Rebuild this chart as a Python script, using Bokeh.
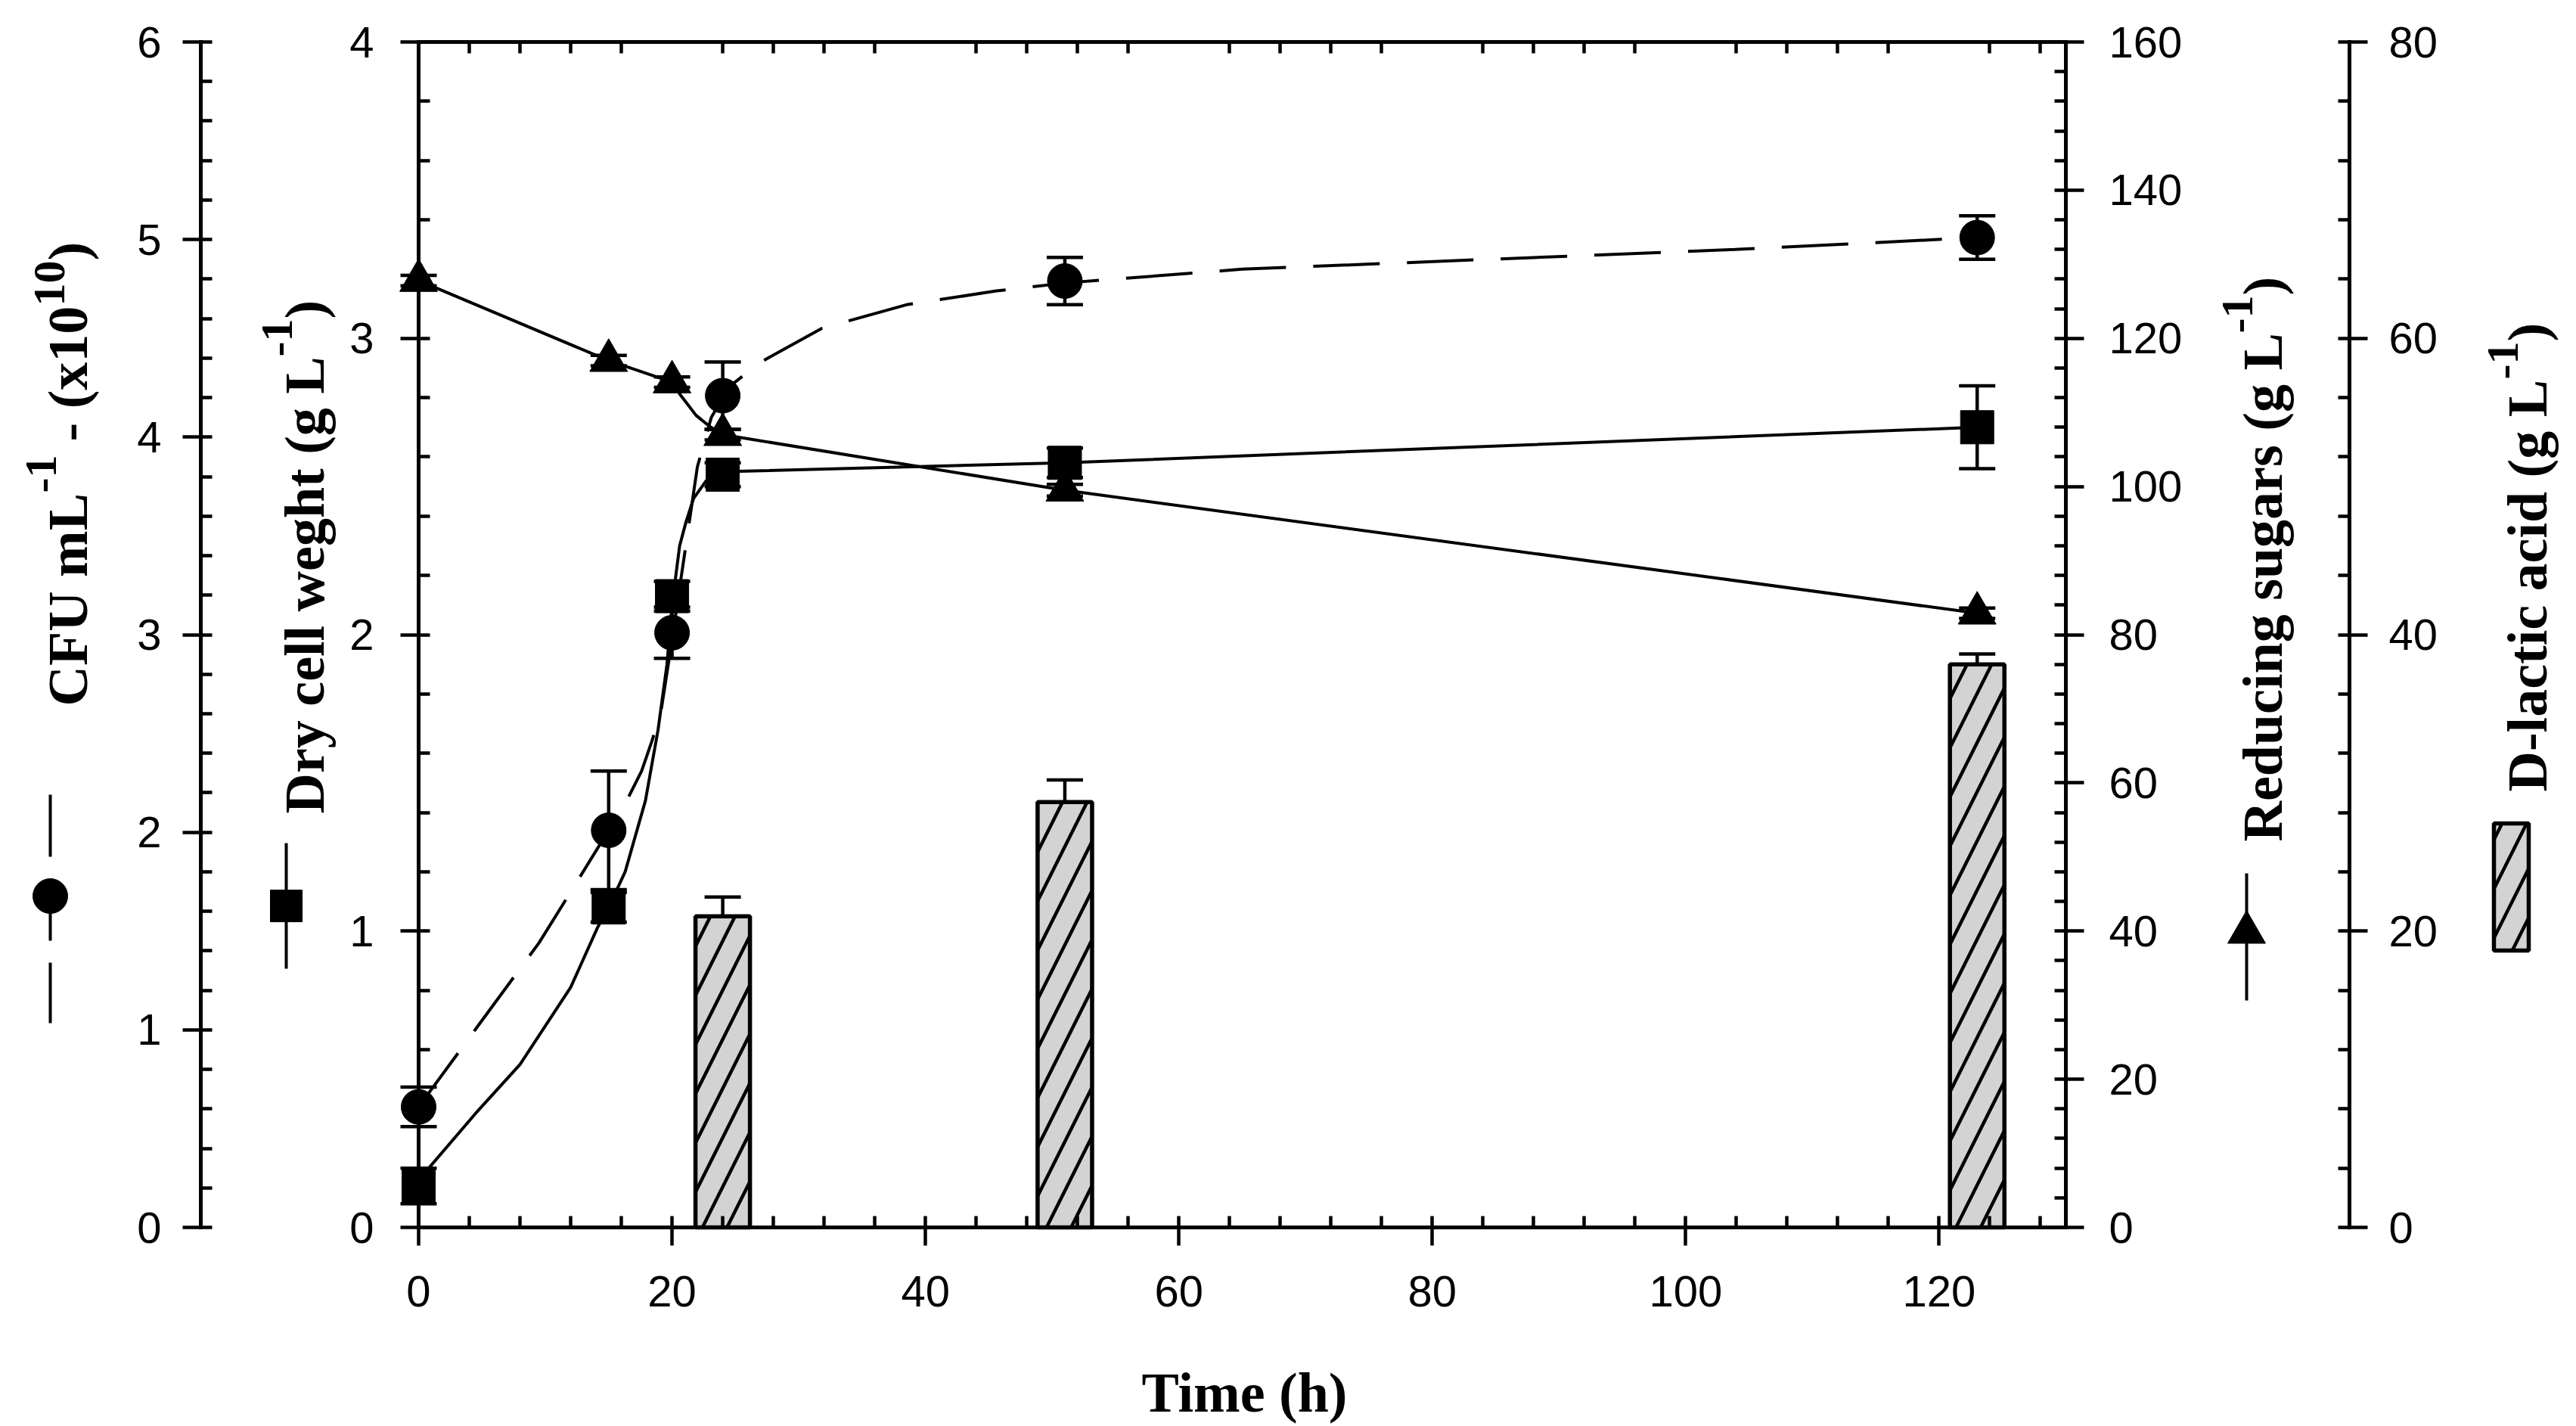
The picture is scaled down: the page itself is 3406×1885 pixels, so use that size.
from math import pi
from bokeh.plotting import figure
from bokeh.models import Range1d, LinearAxis, SingleIntervalTicker, FixedTicker
from bokeh.core.properties import value
from bokeh.embed import file_html
from bokeh.resources import INLINE

# ---------------- data ----------------
time_h = [0, 15, 20, 24, 51, 123]
cfu = [0.61, 2.01, 3.01, 4.21, 4.79, 5.01]          # CFU mL-1 (x10^10)
cfu_err = [0.10, 0.30, 0.13, 0.17, 0.12, 0.11]
dcw = [0.14, 1.08, 2.13, 2.54, 2.58, 2.70]          # dry cell weight g/L
dcw_err = [0.06, 0.05, 0.05, 0.04, 0.05, 0.14]
sugars = [127.8, 117.0, 114.1, 107.0, 99.5, 82.9]    # reducing sugars g/L
sugars_err = [0.7, 0.7, 0.7, 0.7, 0.8, 0.7]
lactic_time = [24, 51, 123]
lactic = [21.0, 28.7, 38.0]                          # D-lactic acid g/L
lactic_err = [1.3, 1.5, 0.7]

# fitted curves as drawn in the picture
cfu_fit_t = [0, 4.8, 9.5, 12.5, 15, 16.5, 17.6, 18.4, 19.1, 19.8, 20.4, 21.2, 22.0,
             23.1, 24.0, 24.8, 27.0, 31.8, 38.5, 45.6, 51.0, 65, 84.5, 103.9, 123]
cfu_fit_v = [0.61, 1.03, 1.44, 1.75, 2.01, 2.17, 2.31, 2.46, 2.60, 2.89, 3.15, 3.50, 3.85,
             4.10, 4.20, 4.27, 4.38, 4.55, 4.67, 4.74, 4.78, 4.85, 4.90, 4.95, 5.01]
dcw_fit_t = [0, 0.8, 4.5, 8.0, 12.0, 14.1, 15, 16.3, 17.9, 18.9, 19.6, 20.0, 20.6,
             21.1, 21.7, 22.7, 24.0, 51, 123]
dcw_fit_v = [0.14, 0.20, 0.385, 0.55, 0.81, 1.01, 1.08, 1.20, 1.44, 1.68, 1.90, 2.10, 2.30,
             2.38, 2.46, 2.52, 2.55, 2.58, 2.70]
sugars_fit_t = [0, 15, 20, 20.6, 21.9, 22.9, 24, 51, 123]
sugars_fit_v = [127.8, 117.0, 114.1, 112.5, 109.6, 108.2, 107.0, 99.5, 82.9]

# ---------------- layout constants (pixels of the page) ----------------
W, H = 3400, 1884
OX, OY = 0, 0
X0_PX, X1_PX, T_MAX = 553, 2731, 130
Y0_PX, Y1_PX, DCW_MAX = 1622, 55, 4
kx = (X1_PX - X0_PX) / T_MAX
ky = (Y0_PX - Y1_PX) / DCW_MAX
x_lo = -(X0_PX - OX) / kx
x_hi = T_MAX + (OX + W - X1_PX) / kx
y_lo = -(OY + H - Y0_PX) / ky
y_hi = DCW_MAX + (Y1_PX - OY) / ky

p = figure(width=W, height=H, x_range=Range1d(x_lo, x_hi), y_range=Range1d(y_lo, y_hi),
           x_axis_location=None, y_axis_location=None, toolbar_location=None,
           output_backend="svg", min_border=0)
p.outline_line_color = None
p.grid.grid_line_color = None
p.extra_y_ranges = {
    "cfu": Range1d(y_lo * 1.5, y_hi * 1.5),
    "sugar": Range1d(y_lo * 40, y_hi * 40),
    "lactic": Range1d(y_lo * 20, y_hi * 20),
    "py": Range1d(OY + H, OY),
}
p.extra_x_ranges = {"px": Range1d(OX, OX + W)}

TICK_FONT = "Liberation Sans"
TITLE_FONT = "Liberation Serif"


def style_axis(ax, ticker, standoff):
    ax.ticker = ticker
    ax.axis_line_width = 5
    ax.axis_line_cap = "square"
    ax.major_tick_line_width = 4.5
    ax.minor_tick_line_width = 4.5
    ax.major_tick_out = 24
    ax.major_tick_in = 0
    ax.minor_tick_out = 0
    ax.minor_tick_in = 15
    ax.major_label_text_font = TICK_FONT
    ax.major_label_text_font_size = "58px"
    ax.major_label_text_color = "black"
    ax.major_label_standoff = standoff
    ax.axis_line_color = "black"
    ax.major_tick_line_color = "black"
    ax.minor_tick_line_color = "black"


# bottom time axis
xb = LinearAxis(fixed_location=0, bounds=(0, T_MAX))
style_axis(xb, SingleIntervalTicker(interval=20, num_minor_ticks=5), 40)
p.add_layout(xb, "below")

# top frame edge (minor ticks only)
xt = LinearAxis(fixed_location=DCW_MAX, bounds=(0, T_MAX))
style_axis(xt, FixedTicker(ticks=[], minor_ticks=[t for t in range(4, T_MAX, 4) if t % 20]), 30)
p.add_layout(xt, "above")

# dry cell weight axis (frame left)
ydcw = LinearAxis(fixed_location=0, bounds=(0, DCW_MAX))
style_axis(ydcw, SingleIntervalTicker(interval=1, num_minor_ticks=5), 35)
p.add_layout(ydcw, "left")

# CFU axis (detached, left)
ycfu = LinearAxis(y_range_name="cfu", x_range_name="px", fixed_location=265, bounds=(0, 6))
style_axis(ycfu, SingleIntervalTicker(interval=1, num_minor_ticks=5), 28)
p.add_layout(ycfu, "left")

# reducing sugars axis (frame right)
ysug = LinearAxis(y_range_name="sugar", fixed_location=T_MAX, bounds=(0, 160))
style_axis(ysug, SingleIntervalTicker(interval=20, num_minor_ticks=5), 33)
p.add_layout(ysug, "right")

# D-lactic acid axis (detached, right)
ylac = LinearAxis(y_range_name="lactic", x_range_name="px", fixed_location=3106, bounds=(0, 80))
style_axis(ylac, SingleIntervalTicker(interval=20, num_minor_ticks=5), 28)
p.add_layout(ylac, "right")

# ---------------- bars ----------------
BAR_STYLE = dict(fill_color="#d3d3d3", line_color="black", line_width=5.5,
                 hatch_pattern="/", hatch_color="black", hatch_weight=4.5, hatch_scale=65)
p.vbar(x=lactic_time, top=lactic, bottom=0, width=4.3, y_range_name="lactic", **BAR_STYLE)
lac_hi = [v + e for v, e in zip(lactic, lactic_err)]
p.segment(x0=lactic_time, y0=lactic, x1=lactic_time, y1=lac_hi, y_range_name="lactic",
          line_color="black", line_width=4.5)
p.scatter(x=lactic_time, y=lac_hi, marker="dash", size=48, line_width=4.5,
          line_color="black", y_range_name="lactic")

# ---------------- curves ----------------
p.line(cfu_fit_t, cfu_fit_v, y_range_name="cfu", line_color="black", line_width=4,
       line_dash="88 36")
p.line(dcw_fit_t, dcw_fit_v, line_color="black", line_width=4)
p.line(sugars_fit_t, sugars_fit_v, y_range_name="sugar", line_color="black", line_width=4)


def errbars(vals, errs, rng):
    lo = [v - e for v, e in zip(vals, errs)]
    hi = [v + e for v, e in zip(vals, errs)]
    kw = {} if rng is None else {"y_range_name": rng}
    p.segment(x0=time_h, y0=lo, x1=time_h, y1=hi, line_color="black", line_width=4.5, **kw)
    p.scatter(x=time_h + time_h, y=lo + hi, marker="dash", size=48, line_width=4.5,
              line_color="black", **kw)


errbars(cfu, cfu_err, "cfu")
errbars(dcw, dcw_err, None)
errbars(sugars, sugars_err, "sugar")

p.scatter(time_h, cfu, marker="circle", size=46, fill_color="black", line_color="black",
          y_range_name="cfu")
p.scatter(time_h, dcw, marker="square", size=44, fill_color="black", line_color="black")
p.scatter(time_h, sugars, marker="triangle", size=50, fill_color="black", line_color="black",
          y_range_name="sugar")

# ---------------- legend keys beside the axis titles ----------------
PXY = dict(x_range_name="px", y_range_name="py")
p.line([66, 66], [1050, 1352], line_color="black", line_width=4, line_dash="82 29", **PXY)
p.scatter([66], [1184], marker="circle", size=46, fill_color="black", line_color="black", **PXY)
p.line([378, 378], [1114, 1280], line_color="black", line_width=4, **PXY)
p.scatter([378], [1197], marker="square", size=42, fill_color="black", line_color="black", **PXY)
p.line([2970, 2970], [1154, 1322], line_color="black", line_width=4, **PXY)
p.scatter([2970], [1232], marker="triangle", size=50, fill_color="black", line_color="black", **PXY)
p.quad(left=[3297], right=[3343], top=[1088], bottom=[1256], **BAR_STYLE, **PXY)

# ---------------- axis titles ----------------
BASE_SHIFT, SUP_SHIFT = 21, 17
title_base = [
    ("CFU mL", 110, 933), ("- (x10", 110, 583), (")", 110, 344),
    ("Dry cell weght (g L", 423, 1075), (")", 423, 421),
    ("Reducing sugars (g L", 3012, 1112), (")", 3012, 390),
    ("D-lactic acid (g L", 3362, 1046), (")", 3362, 451),
]
title_sup = [
    ("-1", 71, 651), ("10", 82, 404),
    ("-1", 383, 471),
    ("-1", 2975, 440),
    ("-1", 3326, 501),
]
for items, size, shift in ((title_base, "74px", BASE_SHIFT), (title_sup, "60px", SUP_SHIFT)):
    p.text(x=[i[1] - shift for i in items], y=[i[2] for i in items], text=[i[0] for i in items],
           angle=pi / 2, text_font=value(TITLE_FONT), text_font_style="bold",
           text_font_size=size, text_align="left", text_baseline="alphabetic",
           text_color="black", **PXY)

p.text(x=[1645], y=[1861 - BASE_SHIFT], text=["Time (h)"], text_font=value(TITLE_FONT),
       text_font_style="bold", text_font_size="74px", text_align="center",
       text_baseline="alphabetic", text_color="black", **PXY)

open("out.html", "w").write(file_html(p, INLINE))
